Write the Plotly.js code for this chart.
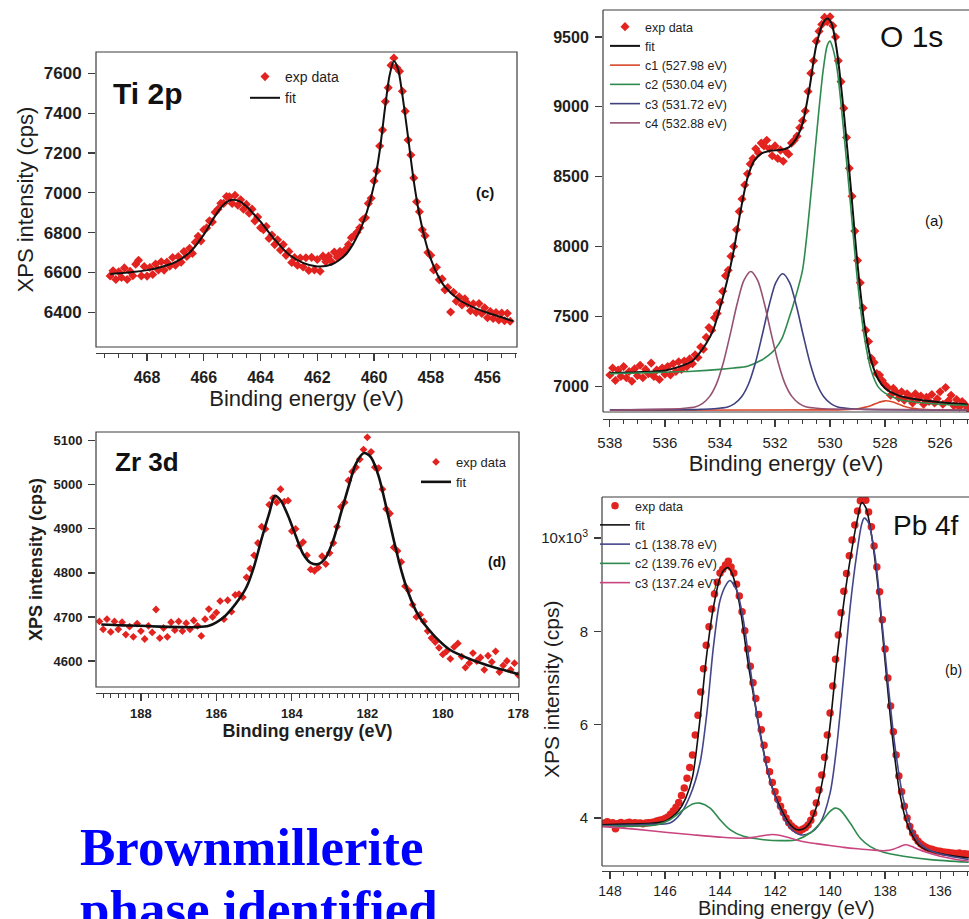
<!DOCTYPE html>
<html>
<head>
<meta charset="utf-8">
<script src="https://cdn.plot.ly/plotly-3.0.1.min.js"></script>
<style>
  html, body { margin: 0; padding: 0; background: #ffffff; }
  #chart { width: 969px; height: 919px; }
</style>
</head>
<body>
<div id="chart"></div>
<script>
// ---------- Ti 2p ----------
const tiEnergy = [469.3,469.2,469.1,469.0,468.9,468.8,468.7,468.6,468.5,468.4,468.3,468.2,468.1,468.0,467.9,467.8,467.7,467.6,467.5,467.4,467.3,467.2,467.1,467.0,466.9,466.8,466.7,466.6,466.5,466.4,466.3,466.2,466.1,466.0,465.9,465.8,465.7,465.6,465.5,465.4,465.3,465.2,465.1,465.0,464.9,464.8,464.7,464.6,464.5,464.4,464.3,464.2,464.1,464.0,463.9,463.8,463.7,463.6,463.5,463.4,463.3,463.2,463.1,463.0,462.9,462.8,462.7,462.6,462.5,462.4,462.3,462.2,462.1,462.0,461.9,461.8,461.7,461.6,461.5,461.4,461.3,461.2,461.1,461.0,460.9,460.8,460.7,460.6,460.5,460.4,460.3,460.2,460.1,460.0,459.9,459.8,459.7,459.6,459.5,459.4,459.3,459.2,459.1,459.0,458.9,458.8,458.7,458.6,458.5,458.4,458.3,458.2,458.1,458.0,457.9,457.8,457.7,457.6,457.5,457.4,457.3,457.2,457.1,457.0,456.9,456.8,456.7,456.6,456.5,456.4,456.3,456.2,456.1,456.0,455.9,455.8,455.7,455.6,455.5,455.4,455.3,455.2];
const tiCounts = [6583,6609,6565,6604,6575,6623,6565,6606,6584,6642,6661,6583,6630,6582,6625,6590,6643,6613,6654,6612,6652,6632,6675,6637,6680,6652,6705,6680,6722,6696,6752,6782,6759,6815,6824,6860,6854,6902,6918,6948,6947,6981,6980,6947,6988,6938,6965,6918,6942,6898,6918,6859,6879,6825,6815,6831,6771,6788,6740,6764,6713,6740,6686,6705,6650,6675,6637,6673,6628,6674,6610,6676,6613,6665,6606,6682,6654,6682,6655,6703,6677,6706,6692,6715,6740,6775,6785,6802,6825,6865,6875,6947,6973,7060,7110,7235,7315,7458,7528,7640,7677,7628,7610,7510,7410,7265,7190,7075,6955,6905,6815,6785,6700,6686,6613,6626,6563,6568,6513,6525,6402,6501,6456,6478,6437,6468,6445,6408,6443,6400,6444,6394,6423,6373,6404,6369,6399,6362,6397,6358,6395,6355];
const tiFitEnergy = [469.3,469,468.5,468,467.5,467,466.5,466,465.75,465.5,465.25,465,464.75,464.5,464.25,464,463.5,463,462.5,462,461.5,461,460.75,460.5,460.25,460,459.8,459.6,459.45,459.3,459.15,459,458.8,458.6,458.4,458.2,458,457.75,457.5,457,456.5,456,455.5,455.1];
const tiFitCounts = [6593,6596,6602,6612,6628,6652,6700,6790,6850,6906,6948,6965,6958,6932,6895,6855,6765,6690,6648,6630,6640,6690,6740,6810,6905,7040,7210,7440,7590,7662,7620,7490,7280,7060,6890,6765,6668,6585,6528,6463,6425,6398,6375,6356];
const tiXTicks = [468,466,464,462,460,458,456];
const tiYTicks = [6400,6600,6800,7000,7200,7400,7600];

// ---------- O 1s ----------
const oEnergy = [538.0,537.9,537.8,537.7,537.6,537.5,537.4,537.3,537.2,537.1,537.0,536.9,536.8,536.7,536.6,536.5,536.4,536.3,536.2,536.1,536.0,535.9,535.8,535.7,535.6,535.5,535.4,535.3,535.2,535.1,535.0,534.9,534.8,534.7,534.6,534.5,534.4,534.3,534.2,534.1,534.0,533.9,533.8,533.7,533.6,533.5,533.4,533.3,533.2,533.1,533.0,532.9,532.8,532.7,532.6,532.5,532.4,532.3,532.2,532.1,532.0,531.9,531.8,531.7,531.6,531.5,531.4,531.3,531.2,531.1,531.0,530.9,530.8,530.7,530.6,530.5,530.4,530.3,530.2,530.1,530.0,529.9,529.8,529.7,529.6,529.5,529.4,529.3,529.2,529.1,529.0,528.9,528.8,528.7,528.6,528.5,528.4,528.3,528.2,528.1,528.0,527.9,527.8,527.7,527.6,527.5,527.4,527.3,527.2,527.1,527.0,526.9,526.8,526.7,526.6,526.5,526.4,526.3,526.2,526.1,526.0,525.9,525.8,525.7,525.6,525.5,525.4,525.3,525.2,525.1,525.0];
const oCounts = [7080,7130,7040,7115,7070,7140,7060,7105,7035,7125,7075,7150,7060,7120,7090,7165,7070,7115,7048,7130,7085,7140,7080,7160,7105,7175,7120,7180,7140,7195,7160,7225,7205,7280,7265,7350,7420,7400,7490,7520,7600,7680,7790,7830,7930,8000,8120,8250,8340,8440,8520,8590,8630,8700,8670,8740,8720,8760,8700,8650,8720,8630,8690,8610,8680,8660,8740,8760,8790,8850,8900,8970,9110,9240,9330,9470,9540,9590,9640,9610,9645,9580,9500,9330,9180,8990,8780,8560,8360,8110,7900,7740,7560,7400,7320,7200,7170,7090,7080,7040,7010,6990,6935,6985,6960,6915,6960,6900,6945,6925,6880,6945,6905,6930,6870,6920,6890,6940,6880,6910,6960,6870,6990,6895,6935,6860,6905,6850,6890,6870,6840];
const oFitEnergy = [538,537,536,535.5,535,534.75,534.5,534.25,534,533.75,533.5,533.25,533,532.75,532.5,532.25,532,531.75,531.5,531.25,531,530.75,530.5,530.25,530.1,529.95,529.75,529.5,529.25,529,528.75,528.5,528.25,528,527.5,527,526,525];
const oFitCounts = [7095,7100,7112,7138,7180,7235,7305,7400,7560,7745,7970,8255,8490,8615,8665,8682,8688,8693,8710,8765,8880,9130,9440,9600,9632,9600,9400,8960,8430,7870,7440,7180,7050,6985,6932,6910,6885,6869];
const oC1Energy = [538,530,529.5,529,528.75,528.5,528.25,528,527.75,527.5,527.25,527,526.5,525];
const oC1Counts = [6828,6830,6832,6838,6848,6862,6882,6895,6888,6870,6852,6841,6833,6830];
const oC2Energy = [538,537,536,535,534,533.5,533,532.5,532.25,532,531.75,531.5,531.25,531,530.75,530.5,530.25,530.1,530.0,529.9,529.75,529.5,529.25,529,528.75,528.5,528.25,528,527.5,527,526,525];
const oC2Counts = [7090,7094,7100,7107,7120,7130,7143,7185,7218,7265,7340,7480,7640,7830,8260,8780,9260,9440,9470,9420,9280,8820,8290,7750,7350,7110,6995,6950,6905,6888,6870,6862];
const oC3Energy = [538,535,534.72,534.22,533.72,533.47,533.22,532.97,532.72,532.47,532.22,531.97,531.72,531.47,531.22,530.97,530.72,530.47,530.22,529.97,529.72,529.22,528.72,525];
const oC3Counts = [6830,6832,6834,6838,6851,6875,6922,7012,7161,7361,7574,7742,7805,7742,7574,7361,7161,7012,6922,6875,6851,6838,6834,6830];
const oC4Energy = [538,536.88,535.88,535.38,534.88,534.63,534.38,534.13,533.88,533.63,533.38,533.13,532.88,532.63,532.38,532.13,531.88,531.63,531.38,531.13,530.88,530.38,529.88,525];
const oC4Counts = [6828,6832,6836,6840,6853,6877,6925,7015,7166,7369,7586,7757,7821,7757,7586,7369,7166,7015,6925,6877,6853,6840,6836,6830];
const oXTicks = [538,536,534,532,530,528,526];
const oYTicks = [7000,7500,8000,8500,9000,9500];

// ---------- Zr 3d ----------
const zrEnergy = [189.1,189.0,188.9,188.8,188.7,188.6,188.5,188.4,188.3,188.2,188.1,188.0,187.9,187.8,187.7,187.6,187.5,187.4,187.3,187.2,187.1,187.0,186.9,186.8,186.7,186.6,186.5,186.4,186.3,186.2,186.1,186.0,185.9,185.8,185.7,185.6,185.5,185.4,185.3,185.2,185.1,185.0,184.9,184.8,184.7,184.6,184.5,184.4,184.3,184.2,184.1,184.0,183.9,183.8,183.7,183.6,183.5,183.4,183.3,183.2,183.1,183.0,182.9,182.8,182.7,182.6,182.5,182.4,182.3,182.2,182.1,182.0,181.9,181.8,181.7,181.6,181.5,181.4,181.3,181.2,181.1,181.0,180.9,180.8,180.7,180.6,180.5,180.4,180.3,180.2,180.1,180.0,179.9,179.8,179.7,179.6,179.5,179.4,179.3,179.2,179.1,179.0,178.9,178.8,178.7,178.6,178.5,178.4,178.3,178.2,178.1,178.0];
const zrCounts = [4690,4672,4695,4666,4690,4672,4688,4660,4678,4655,4685,4668,4650,4680,4665,4717,4652,4675,4655,4688,4670,4690,4668,4686,4672,4692,4680,4657,4695,4718,4700,4710,4736,4695,4738,4712,4750,4752,4745,4790,4810,4840,4868,4905,4900,4955,4970,4960,4990,4962,4964,4895,4900,4862,4870,4840,4808,4805,4812,4838,4820,4845,4868,4905,4950,4960,5010,5030,5040,5058,5080,5108,5075,5040,5038,4990,4945,4935,4858,4850,4825,4770,4760,4728,4700,4705,4690,4668,4652,4643,4630,4615,4622,4605,4632,4640,4610,4585,4595,4618,4600,4608,4580,4612,4598,4622,4575,4590,4600,4580,4595,4568];
const zrFitEnergy = [189.05,188.5,188,187.5,187,186.5,186.2,186.0,185.8,185.6,185.4,185.2,185.0,184.8,184.6,184.45,184.3,184.1,183.9,183.7,183.5,183.3,183.1,182.9,182.7,182.5,182.3,182.1,182.0,181.9,181.7,181.5,181.3,181.1,180.9,180.7,180.5,180.2,179.8,179.3,178.8,178.4,177.95];
const zrFitCounts = [4683,4681,4680,4678,4677,4677,4680,4688,4700,4718,4740,4768,4815,4878,4935,4975,4965,4930,4885,4843,4823,4820,4835,4875,4935,4995,5048,5072,5070,5062,5020,4950,4875,4806,4752,4712,4685,4655,4625,4605,4590,4580,4569];
const zrXTicks = [188,186,184,182,180,178];
const zrYTicks = [4600,4700,4800,4900,5000,5100];

// ---------- Pb 4f ----------
const pbEnergy = [148.2,148.1,148.0,147.9,147.8,147.7,147.6,147.5,147.4,147.3,147.2,147.1,147.0,146.9,146.8,146.7,146.6,146.5,146.4,146.3,146.2,146.1,146.0,145.9,145.8,145.7,145.6,145.5,145.4,145.3,145.2,145.1,145.0,144.9,144.8,144.7,144.6,144.5,144.4,144.3,144.2,144.1,144.0,143.9,143.8,143.7,143.6,143.5,143.4,143.3,143.2,143.1,143.0,142.9,142.8,142.7,142.6,142.5,142.4,142.3,142.2,142.1,142.0,141.9,141.8,141.7,141.6,141.5,141.4,141.3,141.2,141.1,141.0,140.9,140.8,140.7,140.6,140.5,140.4,140.3,140.2,140.1,140.0,139.9,139.8,139.7,139.6,139.5,139.4,139.3,139.2,139.1,139.0,138.9,138.8,138.7,138.6,138.5,138.4,138.3,138.2,138.1,138.0,137.9,137.8,137.7,137.6,137.5,137.4,137.3,137.2,137.1,137.0,136.9,136.8,136.7,136.6,136.5,136.4,136.3,136.2,136.1,136.0,135.9,135.8,135.7,135.6,135.5,135.4,135.3,135.2,135.1,135.0];
const pbCounts = [3890,3920,3880,3900,3770,3880,3905,3870,3895,3910,3880,3900,3885,3895,3875,3890,3900,3905,3915,3935,3950,3960,3990,4020,4080,4150,4230,4330,4480,4640,4850,5080,5350,5780,6200,6700,7200,7700,8100,8480,8800,9050,9250,9330,9420,9500,9380,9250,9010,8760,8420,8010,7620,7250,6900,6560,6220,5890,5560,5250,4990,4760,4560,4400,4250,4120,4000,3900,3830,3780,3740,3720,3760,3790,3850,3950,4100,4320,4600,4920,5300,5780,6250,6830,7400,7920,8400,8860,9240,9620,9960,10280,10580,10800,10880,10810,10560,10240,9830,9380,8850,8250,7620,7000,6400,5850,5350,4900,4560,4250,4000,3820,3680,3580,3500,3440,3400,3370,3340,3330,3310,3290,3285,3270,3265,3260,3250,3245,3240,3250,3230,3235,3225];
const pbFitEnergy = [148.3,147.5,146.5,146.0,145.75,145.5,145.25,145.0,144.75,144.5,144.25,144.0,143.85,143.7,143.55,143.4,143.25,143.0,142.75,142.5,142.25,142.0,141.75,141.5,141.25,141.1,140.9,140.7,140.5,140.25,140.0,139.75,139.5,139.25,139.0,138.85,138.7,138.5,138.25,138.0,137.75,137.5,137.25,137.0,136.75,136.5,136.0,135.5,134.96];
const pbFitCounts = [3856,3868,3885,3930,4020,4160,4420,4880,6000,7420,8480,9150,9320,9365,9220,8900,8440,7400,6520,5700,4960,4480,4160,3900,3760,3745,3790,3930,4230,4880,5990,7420,8620,9610,10420,10760,10650,10090,8930,7360,5830,4650,3970,3610,3405,3320,3238,3185,3144];
const pbC1Energy = [148.3,147,146.5,145.82,145.45,145.1,144.73,144.48,144.24,144.0,143.76,143.64,143.39,143.15,142.91,142.55,142.18,141.82,141.45,141.09,140.73,140.36,140.0,139.76,139.52,139.27,139.03,138.85,138.76,138.61,138.36,138.12,137.88,137.64,137.33,136.97,136.61,136.12,134.96];
const pbC1Counts = [3834,3850,3862,3891,4080,4461,5173,6241,7665,8661,9017,9089,8875,8234,7237,5814,4817,4176,3784,3642,3678,3891,4532,5529,6953,8519,9658,10299,10427,10335,9587,8234,6810,5529,4390,3678,3393,3250,3108];
const pbC2Energy = [148.3,146.3,145.82,145.33,144.97,144.73,144.36,144.0,143.64,143.15,142.42,141.7,141.21,140.73,140.36,140.0,139.82,139.64,139.27,138.91,138.55,138.06,137.33,136.36,134.96];
const pbC2Counts = [3820,3856,3962,4176,4304,4319,4212,3962,3749,3607,3535,3514,3535,3678,3891,4141,4212,4176,3891,3571,3393,3264,3179,3108,3051];
const pbC3Energy = [148.3,147,146,145,144,143.2,142.8,142.4,142.1,141.8,141.4,141,140.5,140,139.5,139,138.5,138,137.7,137.45,137.25,137.05,136.8,136.5,136,135.5,134.96];
const pbC3Counts = [3820,3755,3695,3640,3590,3565,3585,3625,3645,3625,3560,3495,3450,3410,3370,3340,3315,3300,3330,3390,3425,3395,3330,3265,3180,3120,3073];
const pbXTicks = [148,146,144,142,140,138,136];
const pbYTicks = [4000,6000,8000,10000];
const pbYTickText = ['4','6','8','10x10<sup>3</sup>'];

// ---------- styling ----------
const SANS = 'Liberation Sans, Arial, Helvetica, sans-serif';
const SERIF = 'Liberation Serif, Times New Roman, serif';
const RED = '#e3231f';
const AXC = '#3c3c3c';
const TXT = '#1e1e1e';
const W = 969, H = 919;
const fx = p => p / W;
const fy = p => 1 - p / H;

function dataTrace(x, y, xa, ya, lg, symbol, size) {
  return { x, y, xaxis: xa, yaxis: ya, legend: lg, name: 'exp data', type: 'scatter', mode: 'markers',
    marker: { symbol, size, color: RED, line: { width: 0 } } };
}
function lineTrace(x, y, xa, ya, lg, name, color, width) {
  return { x, y, xaxis: xa, yaxis: ya, legend: lg, name, type: 'scatter', mode: 'lines',
    line: { color, width, shape: 'spline', smoothing: 0.8 } };
}

const traces = [
  dataTrace(tiEnergy, tiCounts, 'x', 'y', 'legend', 'diamond', 7),
  lineTrace(tiFitEnergy, tiFitCounts, 'x', 'y', 'legend', 'fit', '#111111', 2),

  dataTrace(oEnergy, oCounts, 'x2', 'y2', 'legend2', 'diamond', 7),
  lineTrace(oFitEnergy, oFitCounts, 'x2', 'y2', 'legend2', 'fit', '#111111', 2),
  lineTrace(oC1Energy, oC1Counts, 'x2', 'y2', 'legend2', 'c1 (527.98 eV)', '#d9472b', 1.6),
  lineTrace(oC2Energy, oC2Counts, 'x2', 'y2', 'legend2', 'c2 (530.04 eV)', '#2e8a4e', 1.6),
  lineTrace(oC3Energy, oC3Counts, 'x2', 'y2', 'legend2', 'c3 (531.72 eV)', '#3f4180', 1.6),
  lineTrace(oC4Energy, oC4Counts, 'x2', 'y2', 'legend2', 'c4 (532.88 eV)', '#955170', 1.6),

  dataTrace(zrEnergy, zrCounts, 'x3', 'y3', 'legend3', 'diamond', 6),
  lineTrace(zrFitEnergy, zrFitCounts, 'x3', 'y3', 'legend3', 'fit', '#111111', 2.6),

  dataTrace(pbEnergy, pbCounts, 'x4', 'y4', 'legend4', 'circle', 7.5),
  lineTrace(pbFitEnergy, pbFitCounts, 'x4', 'y4', 'legend4', 'fit', '#111111', 1.6),
  lineTrace(pbC1Energy, pbC1Counts, 'x4', 'y4', 'legend4', 'c1 (138.78 eV)', '#44468a', 1.6),
  lineTrace(pbC2Energy, pbC2Counts, 'x4', 'y4', 'legend4', 'c2 (139.76 eV)', '#2e8a4e', 1.6),
  lineTrace(pbC3Energy, pbC3Counts, 'x4', 'y4', 'legend4', 'c3 (137.24 eV)', '#c9457f', 1.6)
];

function xAxis(o) {
  const ax = {
    domain: o.domain, range: o.range, anchor: 'free', position: o.position,
    showline: true, linecolor: AXC, linewidth: 1.2, showgrid: false, zeroline: false,
    tickmode: 'array', tickvals: o.ticks, ticks: 'outside', ticklen: 7, tickwidth: 1.2, tickcolor: AXC,
    minor: { dtick: o.minor, tick0: 0, ticks: 'outside', ticklen: 4, tickwidth: 1, tickcolor: AXC, showgrid: false },
    ticklabelstandoff: o.labelGap,
    tickfont: { family: SANS, size: o.tickSize, color: TXT, weight: o.tickWeight }
  };
  if (o.titleSize) ax.title = { text: 'Binding energy (eV)', standoff: o.titleGap,
    font: { family: SANS, size: o.titleSize, color: TXT, weight: o.titleWeight } };
  return ax;
}
function yAxis(o) {
  const ax = {
    domain: o.domain, range: o.range, anchor: o.anchor, showline: false, showgrid: false, zeroline: false,
    tickmode: 'array', tickvals: o.ticks, ticks: 'outside', ticklen: 7, tickwidth: 1.2, tickcolor: AXC,
    ticklabelstandoff: 3,
    tickfont: { family: SANS, size: o.tickSize, color: TXT, weight: o.tickWeight }
  };
  if (o.tickText) ax.ticktext = o.tickText;
  if (o.title) ax.title = { text: o.title, standoff: o.titleGap,
    font: { family: SANS, size: o.titleSize, color: TXT, weight: o.titleWeight } };
  return ax;
}

const layout = {
  width: W, height: H,
  margin: { l: 0, r: 0, t: 0, b: 0 },
  paper_bgcolor: '#ffffff', plot_bgcolor: 'rgba(0,0,0,0)',
  showlegend: true,

  xaxis: xAxis({ domain: [fx(96), fx(517)], range: [469.8, 454.96], position: fy(353), ticks: tiXTicks, minor: 0.5,
    labelGap: 3, tickSize: 16, tickWeight: 700, titleGap: 0, titleSize: 22, titleWeight: 400 }),
  yaxis: yAxis({ domain: [fy(347), fy(52)], range: [6226, 7707], anchor: 'x', ticks: tiYTicks,
    tickSize: 17, tickWeight: 700, title: 'XPS intensity (cps)', titleGap: 4, titleSize: 22, titleWeight: 400 }),

  xaxis2: xAxis({ domain: [fx(603), 1], range: [538.25, 524.95], position: fy(419), ticks: oXTicks, minor: 0.5,
    labelGap: 3, tickSize: 15, tickWeight: 400, titleGap: 0, titleSize: 22, titleWeight: 400 }),
  yaxis2: yAxis({ domain: [fy(412), fy(10)], range: [6815, 9693], anchor: 'x2', ticks: oYTicks,
    tickSize: 16, tickWeight: 700 }),

  xaxis3: xAxis({ domain: [fx(96), fx(519)], range: [189.19, 177.98], position: fy(693), ticks: zrXTicks, minor: 0.2,
    labelGap: 1, tickSize: 13, tickWeight: 700, titleGap: 0, titleSize: 18, titleWeight: 700 }),
  yaxis3: yAxis({ domain: [fy(687), fy(432)], range: [4541, 5120], anchor: 'x3', ticks: zrYTicks,
    tickSize: 13, tickWeight: 700, title: 'XPS intensity (cps)', titleGap: 6, titleSize: 18, titleWeight: 700 }),

  // Pb 4f titles are placed as annotations: one meets the bottom edge, the other sits beside narrow tick labels
  xaxis4: xAxis({ domain: [fx(602), 1], range: [148.29, 134.95], position: fy(871), ticks: pbXTicks, minor: 0.5,
    labelGap: 0, tickSize: 14, tickWeight: 400 }),
  yaxis4: yAxis({ domain: [fy(866), fy(497)], range: [2971, 10879], anchor: 'x4', ticks: pbYTicks, tickText: pbYTickText,
    tickSize: 15, tickWeight: 400 }),

  legend: { x: fx(245), y: fy(61), xanchor: 'left', yanchor: 'top', bgcolor: 'rgba(0,0,0,0)',
    font: { family: SANS, size: 14, color: TXT }, itemclick: false },
  legend2: { x: fx(605), y: fy(12), xanchor: 'left', yanchor: 'top', bgcolor: 'rgba(0,0,0,0)',
    font: { family: SANS, size: 12.5, color: TXT }, itemclick: false },
  legend3: { x: fx(416), y: fy(447), xanchor: 'left', yanchor: 'top', bgcolor: 'rgba(0,0,0,0)',
    font: { family: SANS, size: 13, color: TXT }, itemclick: false },
  legend4: { x: fx(595), y: fy(491), xanchor: 'left', yanchor: 'top', bgcolor: 'rgba(0,0,0,0)',
    font: { family: SANS, size: 12.5, color: TXT }, itemclick: false },

  shapes: [
    // panel frames
    { type: 'rect', xref: 'x domain', yref: 'y domain', x0: 0, x1: 1, y0: 0, y1: 1, line: { color: AXC, width: 1.2 } },
    { type: 'rect', xref: 'x3 domain', yref: 'y3 domain', x0: 0, x1: 1, y0: 0, y1: 1, line: { color: AXC, width: 1.2 } },
    { type: 'line', xref: 'x2 domain', yref: 'y2 domain', x0: 0, x1: 0, y0: 0, y1: 1, line: { color: AXC, width: 1.2 } },
    { type: 'line', xref: 'x2 domain', yref: 'y2 domain', x0: 0, x1: 1, y0: 1, y1: 1, line: { color: AXC, width: 1.2 } },
    { type: 'line', xref: 'x2 domain', yref: 'y2 domain', x0: 0, x1: 1, y0: 0, y1: 0, line: { color: AXC, width: 1.2 } },
    { type: 'line', xref: 'x4 domain', yref: 'y4 domain', x0: 0, x1: 0, y0: 0, y1: 1, line: { color: AXC, width: 1.2 } },
    { type: 'line', xref: 'x4 domain', yref: 'y4 domain', x0: 0, x1: 1, y0: 1, y1: 1, line: { color: AXC, width: 1.2 } },
    { type: 'line', xref: 'x4 domain', yref: 'y4 domain', x0: 0, x1: 1, y0: 0, y1: 0, line: { color: AXC, width: 1.2 } }
  ],

  annotations: [
    { text: 'Ti 2p', x: fx(147), y: fy(93), xref: 'paper', yref: 'paper', showarrow: false, xanchor: 'center', yanchor: 'middle',
      font: { family: SANS, size: 30, color: '#111', weight: 700 } },
    { text: '(c)', x: fx(485), y: fy(192), xref: 'paper', yref: 'paper', showarrow: false, xanchor: 'center', yanchor: 'middle',
      font: { family: SANS, size: 15, color: '#111', weight: 700 } },
    { text: 'O 1s', x: fx(911), y: fy(37), xref: 'paper', yref: 'paper', showarrow: false, xanchor: 'center', yanchor: 'middle',
      font: { family: SANS, size: 30, color: '#111' } },
    { text: '(a)', x: fx(934), y: fy(220), xref: 'paper', yref: 'paper', showarrow: false, xanchor: 'center', yanchor: 'middle',
      font: { family: SANS, size: 15, color: '#111' } },
    { text: 'Zr 3d', x: fx(147), y: fy(462), xref: 'paper', yref: 'paper', showarrow: false, xanchor: 'center', yanchor: 'middle',
      font: { family: SANS, size: 26, color: '#111', weight: 700 } },
    { text: '(d)', x: fx(497), y: fy(562), xref: 'paper', yref: 'paper', showarrow: false, xanchor: 'center', yanchor: 'middle',
      font: { family: SANS, size: 14, color: '#111', weight: 700 } },
    { text: 'Pb 4f', x: fx(926), y: fy(525), xref: 'paper', yref: 'paper', showarrow: false, xanchor: 'center', yanchor: 'middle',
      font: { family: SANS, size: 28, color: '#111' } },
    { text: '(b)', x: fx(953), y: fy(670), xref: 'paper', yref: 'paper', showarrow: false, xanchor: 'center', yanchor: 'middle',
      font: { family: SANS, size: 14, color: '#111' } },
    { text: 'XPS intensity (cps)', x: fx(551), y: fy(690), xref: 'paper', yref: 'paper', showarrow: false, textangle: -90,
      xanchor: 'center', yanchor: 'middle', font: { family: SANS, size: 21, color: TXT } },
    { text: 'Binding energy (eV)', x: fx(786), y: fy(908), xref: 'paper', yref: 'paper', showarrow: false,
      xanchor: 'center', yanchor: 'middle', font: { family: SANS, size: 20, color: TXT } },
    { text: 'Brownmillerite', x: fx(78), y: fy(847), xref: 'paper', yref: 'paper', showarrow: false, xanchor: 'left', yanchor: 'middle',
      font: { family: SERIF, size: 53, color: '#0000ff', weight: 700 } },
    { text: 'phase identified', x: fx(78), y: fy(909), xref: 'paper', yref: 'paper', showarrow: false, xanchor: 'left', yanchor: 'middle',
      font: { family: SERIF, size: 53, color: '#0000ff', weight: 700 } }
  ]
};

Plotly.newPlot('chart', traces, layout, { staticPlot: true, displayModeBar: false });
</script>
</body>
</html>
